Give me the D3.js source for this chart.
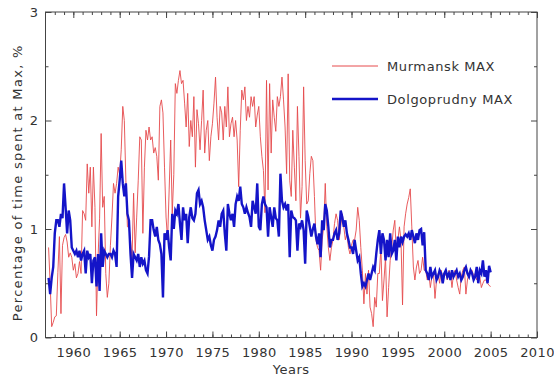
<!DOCTYPE html>
<html>
<head>
<meta charset="utf-8">
<script src="https://cdn.jsdelivr.net/npm/d3@7"></script>
<style>
  body { margin: 0; background: #fff; }
  text { font-family: "DejaVu Sans", sans-serif; fill: #333; }
</style>
</head>
<body>
<div id="chart"></div>
<script>
// monthly-ish readings (every 2 months) starting at 1957 + 2/6
var startYear = 1957 + 2 / 6;
var step = 1 / 6;

var murmansk = [
  [0.83, 0.5, 0.1, 0.14],
  [0.19, 0.2, 0.6, 0.93, 0.22, 0.85],
  [0.92, 0.95, 0.88, 0.74, 0.78, 0.74],
  [0.62, 0.68, 0.55, 0.59, 0.7, 0.59],
  [1.17, 1.14, 1.08, 1.6, 1.33, 1.57],
  [1.02, 1.57, 1.2, 0.2, 0.74, 1.1],
  [1.88, 1.2, 1.3, 0.59, 0.37, 0.5],
  [0.85, 1.11, 1.42, 1.33, 1.42, 1.57],
  [1.5, 1.73, 2.13, 2.0, 1.45, 1.02],
  [1.02, 0.9, 0.72, 1.33, 0.78, 1.11],
  [1.45, 1.85, 1.82, 0.96, 1.57, 1.91],
  [1.82, 1.94, 1.82, 1.85, 1.7, 1.75],
  [1.67, 1.45, 2.13, 2.19, 2.07, 1.57],
  [1.11, 0.9, 1.36, 1.82, 1.14, 1.5],
  [2.34, 2.25, 2.37, 2.46, 2.34, 2.37],
  [2.16, 1.94, 2.25, 1.76, 2.0, 1.85],
  [2.22, 1.57, 2.1, 1.97, 1.73, 2.0],
  [2.28, 1.7, 1.91, 2.0, 1.63, 1.85],
  [1.97, 2.16, 2.40, 2.03, 1.82, 2.13],
  [2.07, 1.82, 2.13, 1.94, 2.31, 1.85],
  [1.97, 2.03, 1.85, 2.0, 1.82, 1.39],
  [1.91, 2.28, 2.19, 2.31, 2.0, 2.13],
  [2.03, 2.22, 2.13, 2.22, 1.94, 2.05],
  [2.13, 1.85, 1.67, 1.54, 1.15, 2.37],
  [1.36, 2.34, 1.7, 2.19, 2.03, 1.9],
  [2.22, 2.13, 2.22, 2.4, 2.19, 1.94],
  [1.51, 2.43, 1.45, 1.3, 1.91, 1.57],
  [1.26, 2.13, 1.67, 1.1, 1.39, 2.31],
  [1.63, 1.23, 1.26, 1.51, 1.67, 1.63],
  [1.3, 0.9, 0.83, 0.8, 0.62, 0.9],
  [1.02, 1.42, 1.02, 0.83, 0.71, 0.83],
  [0.9, 1.05, 1.14, 1.08, 0.9, 1.02],
  [1.14, 1.02, 0.9, 0.96, 0.83, 0.77],
  [0.85, 0.9, 0.9, 0.99, 1.2, 1.08],
  [0.83, 0.62, 0.31, 0.59, 0.4, 0.62],
  [0.28, 0.22, 0.1, 0.37, 0.28, 0.59],
  [0.59, 0.83, 0.34, 0.53, 0.74, 0.19],
  [0.46, 0.71, 0.83, 0.99, 1.08, 0.77],
  [0.9, 1.02, 0.9, 0.3, 1.02, 1.14],
  [1.23, 1.29, 1.37, 1.02, 0.65, 0.53],
  [0.65, 0.71, 0.59, 0.62, 0.74, 0.62],
  [0.62, 0.53, 0.59, 0.46, 0.56, 0.59],
  [0.36, 0.53, 0.59, 0.5, 0.62, 0.56],
  [0.56, 0.59, 0.53, 0.62, 0.59, 0.46],
  [0.59, 0.62, 0.53, 0.46, 0.4, 0.56],
  [0.62, 0.65, 0.4, 0.53, 0.59, 0.62],
  [0.62, 0.56, 0.59, 0.53, 0.59, 0.56],
  [0.46, 0.5, 0.53, 0.53, 0.5, 0.48],
  [0.47]
];

var dolgoprudny = [
  [0.55, 0.4, 0.55, 0.65],
  [0.96, 1.08, 1.08, 1.02, 1.14, 1.1],
  [1.42, 1.2, 0.96, 1.17, 1.08, 0.83],
  [0.8, 0.77, 0.8, 0.74, 0.8, 0.71],
  [0.77, 0.8, 0.59, 0.8, 0.74, 0.77],
  [0.5, 0.71, 0.74, 0.47, 0.77, 0.43],
  [0.96, 0.65, 0.8, 0.77, 0.74, 0.77],
  [0.77, 0.74, 0.8, 0.77, 0.65, 1.3],
  [1.45, 1.63, 1.42, 1.3, 1.42, 1.14],
  [1.08, 0.77, 0.55, 0.77, 0.74, 0.71],
  [0.77, 0.65, 0.74, 0.68, 0.71, 0.62],
  [0.59, 0.75, 1.08, 1.08, 0.99, 0.93],
  [1.02, 0.9, 0.86, 0.77, 0.37, 0.96],
  [0.9, 0.99, 0.83, 0.71, 1.14, 1.0],
  [1.17, 1.14, 1.23, 1.05, 0.9, 1.2],
  [1.08, 1.14, 0.87, 1.11, 1.2, 1.1],
  [1.08, 1.14, 1.33, 1.36, 1.23, 1.26],
  [1.2, 1.08, 0.99, 0.9, 0.93, 0.85],
  [0.8, 0.9, 0.93, 0.99, 1.08, 1.02],
  [1.14, 1.17, 0.96, 0.8, 1.23, 1.14],
  [1.08, 1.14, 1.02, 1.23, 1.3, 1.26],
  [1.39, 1.23, 1.2, 1.14, 1.2, 1.15],
  [1.11, 1.02, 1.26, 1.2, 1.14, 1.42],
  [1.02, 0.99, 1.23, 1.3, 1.23, 1.2],
  [0.93, 1.2, 1.11, 1.02, 1.2, 1.1],
  [1.08, 0.93, 1.51, 1.26, 1.2, 1.23],
  [1.17, 1.23, 0.74, 1.17, 1.11, 1.1],
  [1.08, 0.8, 1.05, 1.02, 1.08, 0.99],
  [0.68, 1.17, 1.11, 1.02, 0.93, 1.0],
  [1.05, 0.93, 0.86, 0.96, 0.74, 1.08],
  [0.99, 1.23, 1.17, 1.02, 0.83, 0.9],
  [0.9, 0.96, 0.99, 0.9, 0.96, 1.17],
  [1.11, 1.02, 1.08, 0.96, 0.9, 0.83],
  [0.83, 0.77, 0.9, 0.8, 0.71, 0.74],
  [0.59, 0.47, 0.5, 0.47, 0.53, 0.59],
  [0.53, 0.59, 0.65, 0.62, 0.77, 0.9],
  [0.99, 0.77, 0.96, 0.9, 0.71, 0.9],
  [0.74, 0.96, 0.77, 0.8, 0.9, 0.71],
  [0.93, 0.83, 0.93, 0.88, 0.93, 0.95],
  [0.93, 0.96, 0.9, 0.99, 0.93, 0.87],
  [0.96, 0.9, 0.99, 1.0, 0.85, 0.97],
  [0.62, 0.59, 0.53, 0.65, 0.56, 0.59],
  [0.62, 0.53, 0.56, 0.62, 0.59, 0.5],
  [0.59, 0.62, 0.56, 0.59, 0.53, 0.62],
  [0.56, 0.59, 0.62, 0.56, 0.59, 0.53],
  [0.56, 0.62, 0.65, 0.59, 0.56, 0.62],
  [0.59, 0.53, 0.56, 0.65, 0.5, 0.62],
  [0.59, 0.71, 0.56, 0.62, 0.5, 0.66],
  [0.6]
];

var xTicks = [1960, 1965, 1970, 1975, 1980, 1985, 1990, 1995, 2000, 2005, 2010];
var yTicks = [0, 1, 2, 3];
var seriesNames = ["Murmansk MAX", "Dolgoprudny MAX"];
var seriesColors = ["#e64a4d", "#1414c8"];

function init() {
    var w = 554;
    var h = 378;
    var left = 45.5, right = 537, top = 12, bottom = 337.5;

    var svg = d3.select("#chart")
                .append("svg")
                .attr("width", w)
                .attr("height", h);

    var x = d3.scaleLinear().domain([1957, 2010]).range([left, right]);
    var y = d3.scaleLinear().domain([0, 3]).range([bottom, top]);

    var minorX = d3.range(1958, 2011);
    var minorY = [0.5, 1.5, 2.5];

    function toPoints(rows) {
        var flat = rows.flat();
        return flat.map(function(v, i) { return { t: startYear + i * step, v: v }; });
    }

    var line = d3.line()
        .x(function(d) { return x(d.t); })
        .y(function(d) { return y(d.v); });

    // red first, blue drawn on top
    svg.append("path")
        .datum(toPoints(murmansk))
        .attr("d", line)
        .attr("fill", "none")
        .attr("stroke", seriesColors[0])
        .attr("stroke-width", 1)
        .attr("stroke-opacity", 0.9);

    svg.append("path")
        .datum(toPoints(dolgoprudny))
        .attr("d", line)
        .attr("fill", "none")
        .attr("stroke", seriesColors[1])
        .attr("stroke-width", 2.4)
        .attr("stroke-linejoin", "miter");

    // axes: minor ticks every year / 0.5, major every 5 years / 1
    function styleAxis(g) {
        g.select(".domain").remove();
        g.selectAll("line").attr("stroke", "#444");
        g.selectAll("text").attr("font-size", 13).attr("fill", "#333")
            .style("font-family", "DejaVu Sans, sans-serif")
            .style("letter-spacing", "0.4px");
    }

    svg.append("g").attr("transform", "translate(0," + bottom + ")")
        .call(d3.axisBottom(x).tickValues(minorX).tickSize(-3).tickFormat(""))
        .call(styleAxis);
    svg.append("g").attr("transform", "translate(0," + bottom + ")")
        .call(d3.axisBottom(x).tickValues(xTicks).tickSize(-6).tickPadding(10).tickFormat(d3.format("d")))
        .call(styleAxis);
    svg.append("g").attr("transform", "translate(0," + top + ")")
        .call(d3.axisTop(x).tickValues(minorX).tickSize(-3).tickFormat(""))
        .call(styleAxis);
    svg.append("g").attr("transform", "translate(0," + top + ")")
        .call(d3.axisTop(x).tickValues(xTicks).tickSize(-6).tickFormat(""))
        .call(styleAxis);

    svg.append("g").attr("transform", "translate(" + left + ",0)")
        .call(d3.axisLeft(y).tickValues(minorY).tickSize(-3).tickFormat(""))
        .call(styleAxis);
    svg.append("g").attr("transform", "translate(" + left + ",0)")
        .call(d3.axisLeft(y).tickValues(yTicks).tickSize(-6).tickPadding(7).tickFormat(d3.format("d")))
        .call(styleAxis);
    svg.append("g").attr("transform", "translate(" + right + ",0)")
        .call(d3.axisRight(y).tickValues(minorY).tickSize(-3).tickFormat(""))
        .call(styleAxis);
    svg.append("g").attr("transform", "translate(" + right + ",0)")
        .call(d3.axisRight(y).tickValues(yTicks).tickSize(-6).tickFormat(""))
        .call(styleAxis);

    // frame
    svg.append("rect")
        .attr("x", left).attr("y", top)
        .attr("width", right - left).attr("height", bottom - top)
        .attr("fill", "none")
        .attr("stroke", "#444")
        .attr("stroke-width", 1);

    // axis titles
    svg.append("text")
        .attr("x", (left + right) / 2)
        .attr("y", 374)
        .attr("text-anchor", "middle")
        .attr("font-size", 13)
        .style("letter-spacing", "0.5px")
        .text("Years");

    svg.append("text")
        .attr("transform", "translate(22," + ((top + bottom) / 2 + 8) + ") rotate(-90)")
        .attr("text-anchor", "middle")
        .attr("font-size", 13)
        .style("letter-spacing", "1.3px")
        .text("Percentage of time spent at Max, %");

    // legend
    var legend = svg.selectAll(".legend")
        .data(seriesNames)
        .enter()
        .append("g")
        .attr("transform", function(d, i) { return "translate(332," + (66 + i * 33) + ")"; });

    legend.append("line")
        .attr("x1", 0).attr("x2", 46)
        .attr("stroke", function(d, i) { return seriesColors[i]; })
        .attr("stroke-width", function(d, i) { return i == 0 ? 1 : 2.4; });

    legend.append("text")
        .attr("x", 55)
        .attr("y", 0)
        .attr("dy", "0.35em")
        .attr("font-size", 13)
        .style("letter-spacing", "0.6px")
        .text(function(d) { return d; });
}
window.onload = init;
</script>
</body>
</html>
